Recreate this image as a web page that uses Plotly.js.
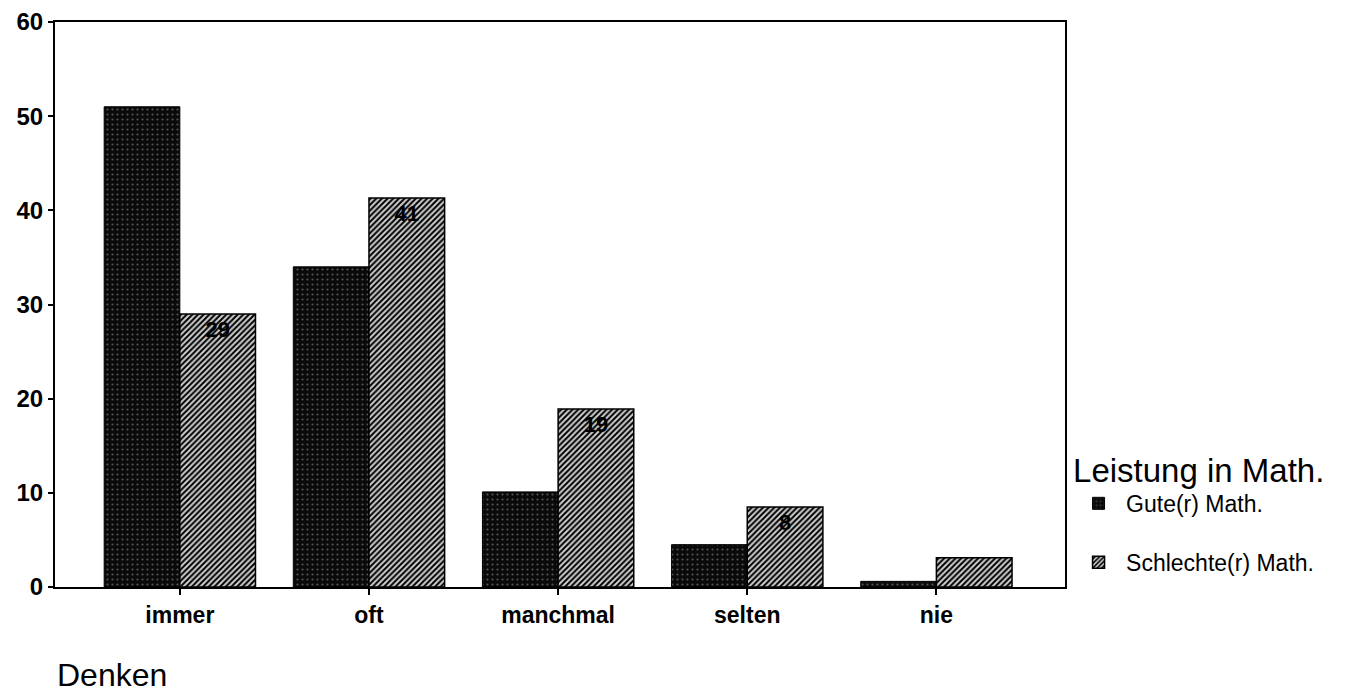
<!DOCTYPE html>
<html><head><meta charset="utf-8">
<script src="https://cdn.plot.ly/plotly-3.0.1.min.js"></script>
<style>html,body{margin:0;padding:0;background:#fff}#chart{width:1351px;height:695px}</style>
</head><body><div id="chart"></div>
<script>
const categories = ['immer', 'oft', 'manchmal', 'selten', 'nie'];
const guteValues = [51, 34, 10.1, 4.5, 0.6];
const schlechteValues = [29, 41.3, 18.9, 8.5, 3.1];
const schlechteLabels = ['29', '41', '19', '8', ''];
const seriesNames = ['Gute(r) Math.', 'Schlechte(r) Math.'];
const yTicks = [0, 10, 20, 30, 40, 50, 60];

const font = 'Liberation Sans, Arial, sans-serif';
const traces = [
  {
    type: 'bar', x: categories, y: guteValues, name: seriesNames[0],
    legendgroup: 'g1',
    marker: { color: '#111', line: { color: '#000', width: 1 },
      pattern: { shape: '.', fgcolor: '#555', bgcolor: '#0a0a0a', size: 5, solidity: 0.15 } },
    hoverinfo: 'skip'
  },
  {
    type: 'bar', x: categories, y: schlechteValues, name: seriesNames[1],
    legendgroup: 'g2',
    text: schlechteLabels, textposition: 'inside', insidetextanchor: 'end', textangle: 0,
    textfont: { family: font, size: 22, color: '#000', weight: 'bold' },
    marker: { color: '#999', line: { color: '#000', width: 1.5 },
      pattern: { shape: '/', fgcolor: '#000', bgcolor: '#cfcfcf', size: 4, solidity: 0.5 } },
    hoverinfo: 'skip'
  }
];

const layout = {
  width: 1351, height: 695,
  margin: { l: 55, r: 286, t: 22, b: 108 },
  paper_bgcolor: '#fff', plot_bgcolor: '#fff',
  barmode: 'group', bargap: 0.2, bargroupgap: 0,
  font: { family: font, color: '#000' },
  showlegend: true,
  legend: {
    x: 1.006, xanchor: 'left', y: 0.262, yanchor: 'top',
    title: { text: 'Leistung in Math.', font: { family: font, size: 33, color: '#000' } },
    font: { family: font, size: 23, color: '#000' },
    itemwidth: 45, tracegroupgap: 26, traceorder: 'grouped',
    bgcolor: 'rgba(0,0,0,0)'
  },
  xaxis: {
    type: 'category', range: [-0.66, 4.68],
    showline: true, linecolor: '#000', linewidth: 2, mirror: true,
    ticks: 'outside', ticklen: 6, tickcolor: '#000', tickwidth: 2,
    tickfont: { family: font, size: 23, color: '#000', weight: 'bold' },
    showgrid: false, zeroline: false
  },
  yaxis: {
    range: [0, 60], tickvals: yTicks,
    showline: true, linecolor: '#000', linewidth: 2, mirror: true,
    ticks: 'outside', ticklen: 5, tickcolor: '#000', tickwidth: 2,
    tickfont: { family: font, size: 24, color: '#000', weight: 'bold' },
    showgrid: false, zeroline: false
  },
  annotations: [
    { text: 'Denken', xref: 'paper', yref: 'paper', x: 0, y: -0.12, xanchor: 'left', yanchor: 'top',
      showarrow: false, font: { family: font, size: 32, color: '#000' } }
  ]
};

Plotly.newPlot('chart', traces, layout, { displayModeBar: false, staticPlot: true });
</script></body></html>
